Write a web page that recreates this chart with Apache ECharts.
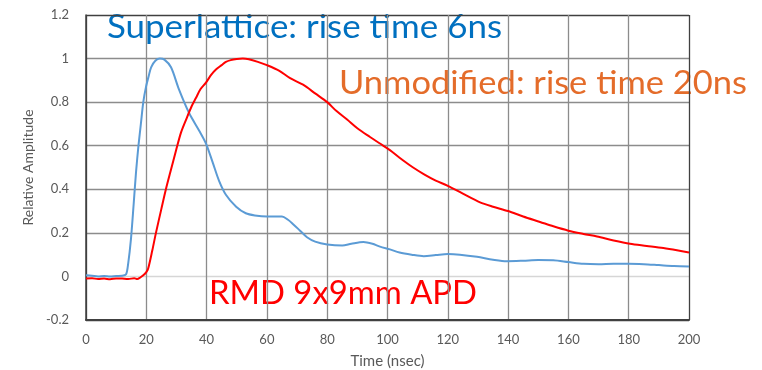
<!DOCTYPE html>
<html>
<head>
<meta charset="utf-8">
<script src="https://cdn.jsdelivr.net/npm/echarts@6/dist/echarts.min.js"></script>
<style>
  html, body { margin: 0; padding: 0; background: #ffffff; }
  #chart { width: 762px; height: 370px; }
</style>
</head>
<body>
<div id="chart"></div>
<script>
// Superlattice APD pulse (normalised amplitude vs time in ns)
const superTime = [0, 2, 4, 6, 8, 10, 12, 13.3, 14, 14.9, 15.8, 16.6, 17.4, 18.2, 19, 19.9, 20.8, 21.6, 23, 24.5, 26, 28.2, 30.8, 34.2, 37.5, 39.8, 42.1, 44.1, 46.4, 49.8, 53, 56, 60, 65, 67, 68.7, 71, 73.3, 76, 80, 85, 88, 92, 95, 97.5, 100.8, 104, 108, 112, 116, 120, 124, 129.7, 135, 139.6, 145, 150, 155, 160, 165, 170, 175, 180, 185, 190, 195, 200];
const superValue = [0.005, 0.003, 0.0, 0.002, 0.0, 0.002, 0.003, 0.01, 0.06, 0.17, 0.33, 0.48, 0.6, 0.70, 0.8, 0.87, 0.92, 0.96, 0.99, 1.0, 0.995, 0.96, 0.86, 0.75, 0.67, 0.61, 0.52, 0.44, 0.375, 0.32, 0.29, 0.28, 0.275, 0.275, 0.26, 0.24, 0.21, 0.18, 0.16, 0.147, 0.142, 0.15, 0.158, 0.15, 0.137, 0.124, 0.11, 0.1, 0.093, 0.098, 0.103, 0.1, 0.09, 0.077, 0.07, 0.072, 0.075, 0.074, 0.066, 0.058, 0.056, 0.058, 0.058, 0.056, 0.052, 0.048, 0.046];

// Unmodified APD pulse
const plainTime = [0, 2, 4, 6, 8, 10, 12, 14, 16, 17, 18, 19, 20, 20.6, 22, 23.2, 25, 26.5, 28, 29.9, 31.5, 33.2, 35, 36.5, 38, 39.8, 41.5, 43.1, 45, 46.4, 48, 50, 52, 54, 57, 60, 64, 67.7, 72, 76, 80, 83, 86.6, 90, 94.2, 97.5, 100.8, 104, 108.5, 112, 116, 120, 125, 130.7, 135, 140, 145, 150.6, 155, 160, 165, 169.5, 175, 180.4, 186, 191.5, 196, 200];
const plainValue = [-0.01, -0.008, -0.012, -0.01, -0.013, -0.009, -0.01, -0.012, -0.008, -0.012, -0.005, 0.005, 0.02, 0.035, 0.12, 0.2, 0.31, 0.40, 0.48, 0.58, 0.66, 0.72, 0.78, 0.82, 0.86, 0.89, 0.925, 0.95, 0.97, 0.985, 0.993, 0.998, 1.0, 0.997, 0.985, 0.97, 0.945, 0.91, 0.88, 0.84, 0.80, 0.76, 0.72, 0.68, 0.64, 0.61, 0.58, 0.545, 0.50, 0.47, 0.44, 0.416, 0.38, 0.34, 0.32, 0.30, 0.275, 0.25, 0.23, 0.21, 0.195, 0.183, 0.165, 0.15, 0.14, 0.13, 0.12, 0.11];

const xTicks = { min: 0, max: 200, step: 20 };
const yTicks = { min: -0.2, max: 1.2, step: 0.2 };

const titleSuper = 'Superlattice: rise time 6ns';
const titlePlain = 'Unmodified: rise time 20ns';
const titleDevice = 'RMD 9x9mm APD';

const pairs = (t, v) => t.map((x, i) => [x, v[i]]);

const FONT = 'Lato, "Open Sans", sans-serif';
const measure = document.createElement('canvas').getContext('2d');
// horizontal squeeze so a caption spans the given width
function fitScale(text, size, width) {
  measure.font = size + 'px Lato';
  return width / measure.measureText(text).width;
}

// white-backed caption laid over the plot
function caption(text, color, left, top, boxW, boxH, textW, textY) {
  const size = 32;
  return {
    type: 'group',
    left: left, top: top, z: 100,
    children: [
      { type: 'rect', shape: { x: 0, y: 0, width: boxW, height: boxH }, style: { fill: '#ffffff' } },
      { type: 'text', x: 2, y: textY, scaleX: fitScale(text, size, textW),
        style: { text: text, fill: color, font: size + 'px ' + FONT, verticalAlign: 'middle' } }
    ]
  };
}

const chart = echarts.init(document.getElementById('chart'), null, { renderer: 'canvas' });

const gray = '#8c8c8c';
const light = '#d6d6d6';
const dark = '#404040';

chart.setOption({
  animation: false,
  backgroundColor: '#ffffff',
  grid: { left: 86, right: 73, top: 15, bottom: 50, containLabel: false, outerBoundsMode: 'none' },
  xAxis: {
    type: 'value', min: xTicks.min, max: xTicks.max, interval: xTicks.step,
    name: 'Time (nsec)', nameLocation: 'middle', nameGap: 34,
    nameTextStyle: { color: '#595959', fontSize: 15, fontFamily: FONT },
    axisLine: { show: true, onZero: false, lineStyle: { color: dark, width: 2 } },
    axisTick: { show: false },
    axisLabel: { color: '#595959', fontSize: 13, fontFamily: FONT, margin: 13 },
    splitLine: { show: true, lineStyle: { color: [dark, gray, gray, gray, gray, gray, gray, gray, gray, gray, dark], width: 1.3 } }
  },
  yAxis: {
    type: 'value', min: yTicks.min, max: yTicks.max, interval: yTicks.step,
    name: 'Relative Amplitude', nameLocation: 'middle', nameGap: 50,
    nameTextStyle: { color: '#595959', fontSize: 14, fontFamily: FONT },
    axisLine: { show: true, onZero: false, lineStyle: { color: dark, width: 1.5 } },
    axisTick: { show: false },
    axisLabel: { color: '#595959', fontSize: 13, fontFamily: FONT, margin: 17,
      formatter: v => String(Math.round(v * 10) / 10) },
    splitLine: { show: true, lineStyle: { color: [dark, light, gray, gray, gray, gray, gray, dark], width: 1.3 } }
  },
  series: [
    { type: 'line', data: pairs(superTime, superValue), showSymbol: false, smooth: 0.3,
      lineStyle: { color: '#5b9bd5', width: 2 }, itemStyle: { color: '#5b9bd5' }, z: 3 },
    { type: 'line', data: pairs(plainTime, plainValue), showSymbol: false, smooth: 0.3,
      lineStyle: { color: '#ff0000', width: 2 }, itemStyle: { color: '#ff0000' }, z: 4 }
  ],
  graphic: [
    caption(titleSuper, '#0070c0', 105, 0, 400, 47, 395, 28),
    caption(titlePlain, '#e46c2a', 337, 57, 423, 44, 408, 27),
    caption(titleDevice, '#ff0000', 207, 268, 275, 51, 268, 25.5)
  ]
});
</script>
</body>
</html>
